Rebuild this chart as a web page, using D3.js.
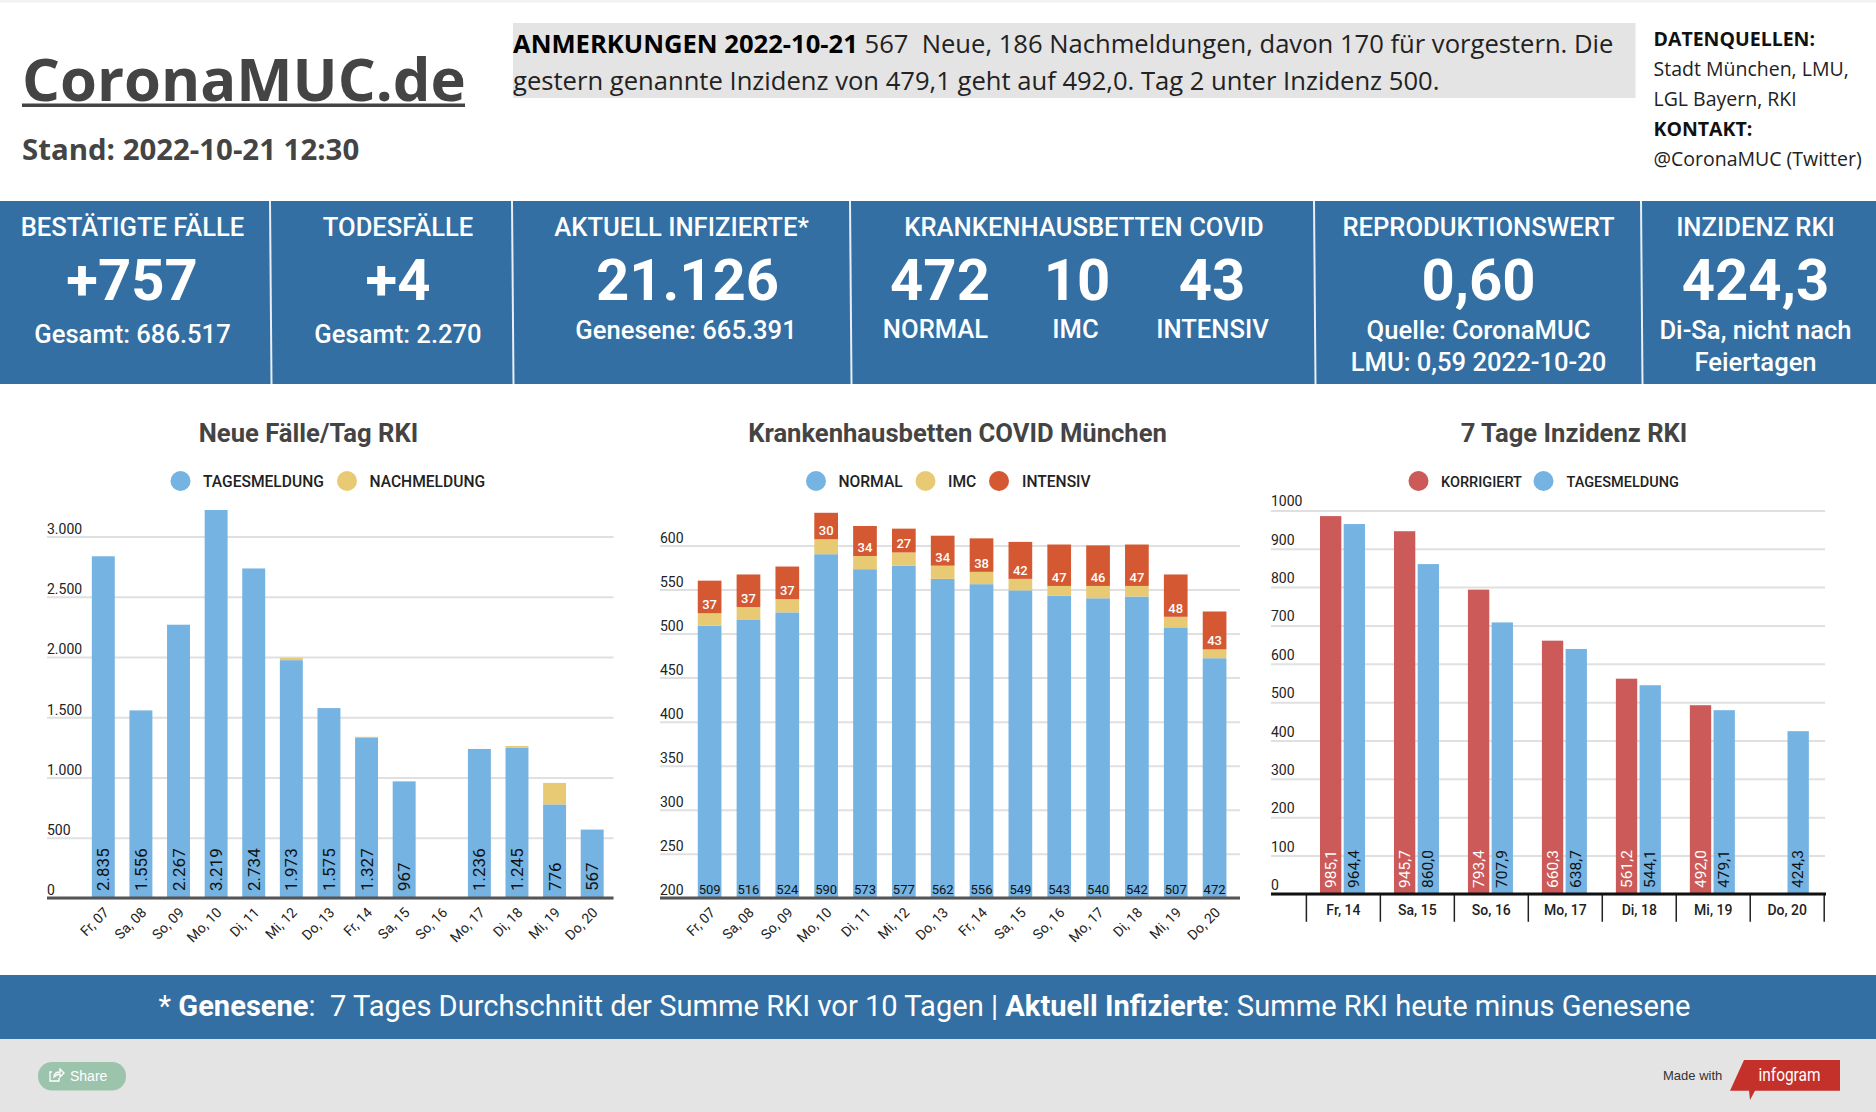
<!DOCTYPE html>
<html>
<head>
<meta charset="utf-8">
<title>CoronaMUC.de</title>
<script src="https://cdn.jsdelivr.net/npm/d3@7"></script>
<style>
  html, body { margin: 0; padding: 0; background: #fff; overflow: hidden; }
  svg { display: block; }
  text { font-family: Roboto, sans-serif; white-space: pre; }
</style>
</head>
<body>
<svg id="chart" width="1876" height="1112"></svg>
<script>
// Chart data
var casesDays = ["Fr, 07", "Sa, 08", "So, 09", "Mo, 10", "Di, 11", "Mi, 12", "Do, 13", "Fr, 14", "Sa, 15", "So, 16", "Mo, 17", "Di, 18", "Mi, 19", "Do, 20"];
var casesDaily = [2835, 1556, 2267, 3219, 2734, 1973, 1575, 1327, 967, 0, 1236, 1245, 776, 567];
var casesLate = [0, 0, 0, 0, 0, 20, 0, 10, 0, 0, 0, 16, 178, 0];
var casesTicks = [0, 500, 1000, 1500, 2000, 2500, 3000];

var bedsDays = casesDays;
var bedsNormal = [509, 516, 524, 590, 573, 577, 562, 556, 549, 543, 540, 542, 507, 472];
var bedsImc = [14, 14, 15, 17, 15, 15, 15, 14, 13, 11, 14, 12, 12, 10];
var bedsIcu = [37, 37, 37, 30, 34, 27, 34, 38, 42, 47, 46, 47, 48, 43];
var bedsTicks = [200, 250, 300, 350, 400, 450, 500, 550, 600];

var incDays = ["Fr, 14", "Sa, 15", "So, 16", "Mo, 17", "Di, 18", "Mi, 19", "Do, 20"];
var incCorrected = [985.1, 945.7, 793.4, 660.3, 561.2, 492.0, null];
var incDaily = [964.4, 860.0, 707.9, 638.7, 544.1, 479.1, 424.3];
var incTicks = [0, 100, 200, 300, 400, 500, 600, 700, 800, 900, 1000];

var BLUE = "#74b3e2", YELLOW = "#e9ca74", ORANGE = "#d45831", RED = "#cb5a58", PANEL = "#336fa3";

var svg = d3.select("#chart");
var de = d3.formatLocale({decimal: ",", thousands: ".", grouping: [3], currency: ["", " €"]});
var fmtInt = de.format(",d"), fmtDec = de.format(",.1f");

// Helper for plain text
function label(x, y, str, size, weight, fill, anchor, font) {
    return svg.append("text")
        .attr("x", x).attr("y", y)
        .attr("font-size", size)
        .attr("font-weight", weight || 400)
        .attr("fill", fill || "#fff")
        .attr("text-anchor", anchor || "middle")
        .style("font-family", font || "Roboto, sans-serif")
        .text(str);
}
var OPEN = '"Open Sans", sans-serif';
var ARIAL = '"Liberation Sans", sans-serif';

// Header
svg.append("rect").attr("width", 1876).attr("height", 2.5).attr("fill", "#f2f2f2");
label(22, 101, "CoronaMUC.de", 59.7, 700, "#444", "start", OPEN);
svg.append("rect").attr("x", 22).attr("y", 103.5).attr("width", 443).attr("height", 3.5).attr("fill", "#444");
label(22, 160, "Stand: 2022-10-21 12:30", 29.4, 700, "#444", "start", OPEN);

svg.append("rect").attr("x", 513).attr("y", 23).attr("width", 1122.5).attr("height", 75).attr("fill", "#e4e4e4");
var note1 = label(513, 53, "", 25.6, 400, "#222", "start", OPEN);
note1.append("tspan").attr("font-weight", 700).attr("fill", "#000").text("ANMERKUNGEN 2022-10-21");
note1.append("tspan").text(" 567  Neue, 186 Nachmeldungen, davon 170 für vorgestern. Die");
label(513, 90, "gestern genannte Inzidenz von 479,1 geht auf 492,0. Tag 2 unter Inzidenz 500.", 25.6, 400, "#222", "start", OPEN);

label(1653.5, 45.5, "DATENQUELLEN:", 19.5, 700, "#111", "start", OPEN);
label(1653.5, 75.5, "Stadt München, LMU,", 19.5, 400, "#222", "start", OPEN);
label(1653.5, 105.5, "LGL Bayern, RKI", 19.5, 400, "#222", "start", OPEN);
label(1653.5, 135.5, "KONTAKT:", 19.5, 700, "#111", "start", OPEN);
label(1653.5, 165.5, "@CoronaMUC (Twitter)", 19.5, 400, "#222", "start", OPEN);

// KPI panels
svg.append("rect").attr("y", 201).attr("width", 1876).attr("height", 183).attr("fill", PANEL);
svg.selectAll("line.sep").data([270, 512, 850, 1314, 1641]).enter().append("line")
    .attr("class", "sep")
    .attr("x1", function(d) { return d; }).attr("x2", function(d) { return d + 1.5; })
    .attr("y1", 201).attr("y2", 384)
    .attr("stroke", "#e8eef4").attr("stroke-width", 2);

var HEAD = 25.6, SUB = 25.6;
label(132.5, 236, "BESTÄTIGTE FÄLLE", HEAD, 500);
label(132, 299.5, "+757", 58, 700);
label(132.5, 343, "Gesamt: 686.517", SUB, 500);

label(398, 236, "TODESFÄLLE", HEAD, 500);
label(398, 299.5, "+4", 58, 700);
label(398, 343, "Gesamt: 2.270", SUB, 500);

label(681.5, 236, "AKTUELL INFIZIERTE*", HEAD, 500);
label(687.5, 299.5, "21.126", 58, 700);
label(686, 339, "Genesene: 665.391", SUB, 500);

label(1084, 236, "KRANKENHAUSBETTEN COVID", HEAD, 500);
label(940, 299.5, "472", 58, 700);
label(1077, 299.5, "10", 58, 700);
label(1212, 299.5, "43", 58, 700);
label(935.5, 338, "NORMAL", SUB, 500);
label(1075.5, 338, "IMC", SUB, 500);
label(1212.5, 338, "INTENSIV", SUB, 500);

label(1478.5, 236, "REPRODUKTIONSWERT", HEAD, 500);
label(1478.5, 299.5, "0,60", 58, 700);
label(1478.5, 339, "Quelle: CoronaMUC", SUB, 500);
label(1478.5, 371, "LMU: 0,59 2022-10-20", SUB, 500);

label(1755.5, 236, "INZIDENZ RKI", HEAD, 500);
label(1755.5, 299.5, "424,3", 58, 700);
label(1755.5, 339, "Di-Sa, nicht nach", SUB, 500);
label(1755.5, 371, "Feiertagen", SUB, 500);

// Helpers for the three charts
function legend(items) {
    items.forEach(function(it) {
        svg.append("ellipse").attr("cx", it.cx).attr("cy", 481).attr("rx", 10).attr("ry", 10).attr("fill", it.color);
        label(it.tx, 486.5, it.name, it.size || 15.6, 500, "#222", "start");
    });
}

function yGrid(scale, ticks, fmt, left, right, dy) {
    var g = svg.append("g").attr("transform", "translate(" + left + ",0)")
        .call(d3.axisRight(scale).tickValues(ticks).tickFormat(fmt).tickSize(right - left));
    g.select(".domain").remove();
    g.selectAll("line").attr("stroke", "#e0e0e0").attr("stroke-width", 2);
    g.selectAll("text").attr("x", 0).attr("y", 0).attr("dy", dy).attr("text-anchor", "start")
        .attr("fill", "#222").style("font-size", "14px");
    return g;
}

function xRotated(scale, baseY, left, right, color) {
    var g = svg.append("g").attr("transform", "translate(0," + baseY + ")")
        .call(d3.axisBottom(scale).tickSize(0));
    g.select(".domain").remove();
    g.selectAll("text")
        .attr("text-anchor", "end")
        .attr("transform", "translate(3,12) rotate(-45)")
        .attr("dy", "0.35em").attr("y", 0)
        .attr("fill", "#222").style("font-size", "14px");
    svg.append("line").attr("x1", left).attr("x2", right).attr("y1", baseY).attr("y2", baseY)
        .attr("stroke", color).attr("stroke-width", 3);
}

function drawStack(table, keys, colors, x, y, clipId) {
    var series = d3.stack().keys(keys)(table);
    series.forEach(function(s, i) {
        var g = svg.append("g").attr("fill", colors[i]);
        if (clipId) g.attr("clip-path", "url(#" + clipId + ")");
        g.selectAll("rect").data(s).enter().append("rect")
            .attr("x", function(d) { return x(d.data.day); })
            .attr("width", x.bandwidth())
            .attr("y", function(d) { return y(d[1]); })
            .attr("height", function(d) { return y(d[0]) - y(d[1]); });
    });
    return series;
}

// Chart 1: new cases per day
label(308.5, 442, "Neue Fälle/Tag RKI", 25.6, 700, "#444");
legend([
    {cx: 180.5, tx: 203, name: "TAGESMELDUNG", color: BLUE},
    {cx: 347, tx: 369.5, name: "NACHMELDUNG", color: YELLOW}
]);
var x1 = d3.scaleBand().domain(casesDays).range([84.5, 611]).paddingInner(0.39).paddingOuter(0.195);
var y1 = d3.scaleLinear().domain([0, 3000]).range([897.9, 536.4]);
yGrid(y1, casesTicks, fmtInt, 47, 613.5, "-3px");
var casesTable = casesDays.map(function(d, i) { return {day: d, daily: casesDaily[i], late: casesLate[i]}; });
drawStack(casesTable, ["daily", "late"], [BLUE, YELLOW], x1, y1);
xRotated(x1, 897.9, 47, 613.5, "#555");
svg.append("g").selectAll("text").data(casesTable.filter(function(d) { return d.daily > 0; })).enter().append("text")
    .attr("transform", function(d) { return "translate(" + (x1(d.day) + x1.bandwidth() / 2 + 6) + ",891) rotate(-90)"; })
    .attr("font-size", 17).attr("fill", "#111")
    .text(function(d) { return fmtInt(d.daily); });

// Chart 2: hospital beds, the bars start on the cut-off axis
label(957.5, 442, "Krankenhausbetten COVID München", 25.6, 700, "#444");
legend([
    {cx: 816, tx: 838.5, name: "NORMAL", color: BLUE},
    {cx: 925.5, tx: 948, name: "IMC", color: YELLOW},
    {cx: 999, tx: 1022, name: "INTENSIV", color: ORANGE}
]);
var x2 = d3.scaleBand().domain(bedsDays).range([690.2, 1234]).paddingInner(0.39).paddingOuter(0.195);
var y2 = d3.scaleLinear().domain([200, 600]).range([897.9, 545.4]);
yGrid(y2, bedsTicks, d3.format("d"), 660, 1240, "-3px");
var bedsTable = bedsDays.map(function(d, i) { return {day: d, normal: bedsNormal[i], imc: bedsImc[i], icu: bedsIcu[i]}; });
svg.append("clipPath").attr("id", "plot2").append("rect")
    .attr("x", 660).attr("y", 400).attr("width", 580).attr("height", 497.9);
var bedsSeries = drawStack(bedsTable, ["normal", "imc", "icu"], [BLUE, YELLOW, ORANGE], x2, y2, "plot2");
xRotated(x2, 897.9, 660, 1240, "#555");
svg.append("g").selectAll("text").data(bedsTable).enter().append("text")
    .attr("x", function(d) { return x2(d.day) + x2.bandwidth() / 2; })
    .attr("y", 893.5).attr("text-anchor", "middle")
    .attr("font-size", 13).attr("fill", "#111")
    .text(function(d) { return d.normal; });
svg.append("g").selectAll("text").data(bedsSeries[2]).enter().append("text")
    .attr("x", function(d) { return x2(d.data.day) + x2.bandwidth() / 2; })
    .attr("y", function(d) { return y2(d[0]) - 4; }).attr("text-anchor", "middle")
    .attr("font-size", 13).attr("font-weight", 500).attr("fill", "#fff")
    .text(function(d) { return d.data.icu; });

// Chart 3: 7 day incidence
label(1574, 442, "7 Tage Inzidenz RKI", 25.6, 700, "#444");
legend([
    {cx: 1418.5, tx: 1441, name: "KORRIGIERT", color: RED, size: 14.5},
    {cx: 1543.5, tx: 1566.5, name: "TAGESMELDUNG", color: BLUE, size: 14.5}
]);
var x3 = d3.scaleBand().domain(incDays).range([1306.4, 1824.2]);
var x3inner = d3.scaleBand().domain(["corrected", "daily"]).range([13.6, 58.6]).paddingInner(0.1);
var y3 = d3.scaleLinear().domain([0, 1000]).range([893.9, 510.4]);
yGrid(y3, incTicks, d3.format("d"), 1271, 1825, "-4.5px");
var incTable = [];
incDays.forEach(function(d, i) {
    if (incCorrected[i] !== null) incTable.push({day: d, key: "corrected", value: incCorrected[i]});
    incTable.push({day: d, key: "daily", value: incDaily[i]});
});
var incX = function(d) { return x3(d.day) + x3inner(d.key); };
svg.append("g").selectAll("rect").data(incTable).enter().append("rect")
    .attr("x", incX)
    .attr("width", x3inner.bandwidth())
    .attr("y", function(d) { return y3(d.value); })
    .attr("height", function(d) { return y3(0) - y3(d.value); })
    .attr("fill", function(d) { return d.key === "corrected" ? RED : BLUE; });
svg.append("g").selectAll("text").data(incTable).enter().append("text")
    .attr("transform", function(d) { return "translate(" + (incX(d) + x3inner.bandwidth() / 2 + 5) + ",888) rotate(-90)"; })
    .attr("font-size", 15.5).attr("fill", function(d) { return d.key === "corrected" ? "#fff" : "#111"; })
    .text(function(d) { return fmtDec(d.value); });
var x3axis = svg.append("g").attr("transform", "translate(0,893.9)")
    .call(d3.axisBottom(x3).tickSize(0).tickPadding(11));
x3axis.select(".domain").remove();
x3axis.selectAll("text").attr("fill", "#222").attr("font-weight", 500).style("font-size", "14px");
svg.append("g").selectAll("line").data(incDays.concat(["end"])).enter().append("line")
    .attr("x1", function(d) { return d === "end" ? x3.range()[1] : x3(d); })
    .attr("x2", function(d) { return d === "end" ? x3.range()[1] : x3(d); })
    .attr("y1", 893.9).attr("y2", 921.8)
    .attr("stroke", "#222").attr("stroke-width", 1.5);
svg.append("line").attr("x1", 1271).attr("x2", 1826).attr("y1", 893.9).attr("y2", 893.9)
    .attr("stroke", "#111").attr("stroke-width", 3);

// Footer band
svg.append("rect").attr("y", 975).attr("width", 1876).attr("height", 64).attr("fill", PANEL);
var foot = label(924.5, 1016, "", 29.1, 400, "#fff");
foot.append("tspan").text("* ");
foot.append("tspan").attr("font-weight", 700).text("Genesene");
foot.append("tspan").text(":  7 Tages Durchschnitt der Summe RKI vor 10 Tagen | ");
foot.append("tspan").attr("font-weight", 700).text("Aktuell Infizierte");
foot.append("tspan").text(": Summe RKI heute minus Genesene");

// Bottom bar with share button and logo
svg.append("rect").attr("y", 1039).attr("width", 1876).attr("height", 73).attr("fill", "#e4e4e4");
svg.append("rect").attr("x", 38).attr("y", 1062).attr("width", 88).attr("height", 28.5).attr("rx", 14)
    .attr("fill", "#9cc3ac");
svg.append("path").attr("d", "M52 1072h-2v9h9v-3M54 1077c0-3 2-5 6-5v-3l4 4-4 4v-3c-3 0-4 1-6 3z")
    .attr("fill", "none").attr("stroke", "#fff").attr("stroke-width", 1.3);
label(70, 1081, "Share", 14, 400, "#fff", "start", ARIAL);
label(1663, 1079.5, "Made with", 13, 400, "#333", "start", ARIAL);
svg.append("path").attr("d", "M1744 1060H1840V1090.7H1755L1750 1100L1749 1090.7H1730Z").attr("fill", "#c4312a");
label(1789.5, 1081, "infogram", 19, 400, "#fff")
    .attr("textLength", 62).attr("lengthAdjust", "spacingAndGlyphs");
</script>
</body>
</html>
